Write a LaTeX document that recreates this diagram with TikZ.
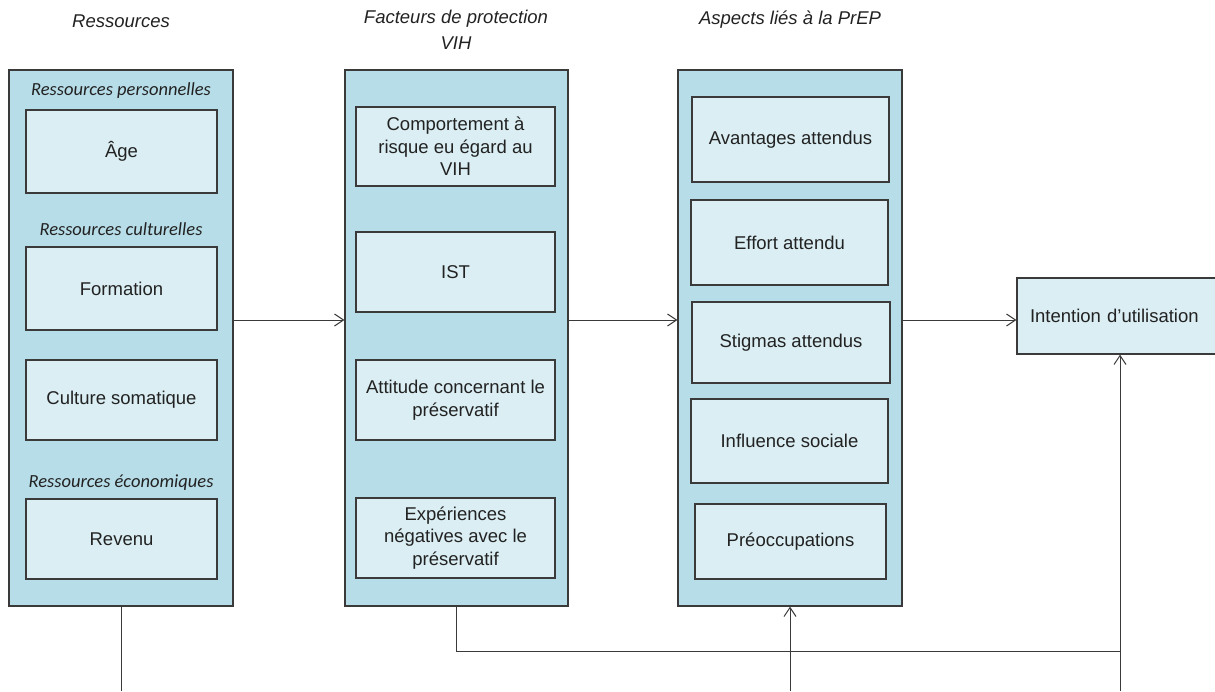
\documentclass[tikz,border=0pt]{standalone}
\usepackage{fontspec}
\setmainfont{Liberation Sans}
\newfontfamily\calfont{Carlito}
\usetikzlibrary{arrows.meta}
\definecolor{outerblue}{HTML}{B7DDE8}
\definecolor{innerblue}{HTML}{DAEEF3}
\definecolor{edge}{HTML}{3A3A3A}
\definecolor{txt}{HTML}{222222}
\tikzset{
  base/.style={font=\fontsize{18.5}{22.5}\selectfont, text=txt},
  outerbox/.style={draw=edge, line width=1.2pt, fill=outerblue, minimum width=224pt, minimum height=536pt, inner sep=0pt},
  innerbox/.style={base, draw=edge, line width=1.2pt, fill=innerblue, align=center, inner sep=0pt},
  sublabel/.style={font=\calfont\itshape\fontsize{18.5}{22}\selectfont, text=txt},
  coltitle/.style={font=\itshape\fontsize{18.5}{26}\selectfont, text=txt, align=center},
  conn/.style={draw=edge, line width=1pt},
  arr/.style={conn, -{Straight Barb[length=9pt,width=12pt,line width=1pt]}}
}
\begin{document}
\begin{tikzpicture}[x=1pt,y=-1pt]
\useasboundingbox (0,0) rectangle (1215,691);
% titles
\node[coltitle] (t1) at (121,21) {Ressources};
\node[coltitle] (t2) at (456,30) {Facteurs de protection\\VIH};
\node[coltitle] (t3) at (790,20) {Aspects liés à la PrEP};
% column 1
\node[outerbox] (c1) at (121,338) {};
\node[sublabel] (l1) at (121,91) {Ressources personnelles};
\node[sublabel] (l2) at (121,229) {Ressources culturelles};
\node[sublabel] (l3) at (121,483) {Ressources économiques};
\node[innerbox, minimum width=191pt, minimum height=83pt] (age) at (121.5,151.5) {Âge};
\node[innerbox, minimum width=191pt, minimum height=83pt] (form) at (121.5,288.5) {Formation};
\node[innerbox, minimum width=191pt, minimum height=80pt] (cult) at (121.5,400) {Culture somatique};
\node[innerbox, minimum width=191pt, minimum height=80pt] (rev) at (121.5,539) {Revenu};
% column 2
\node[outerbox, minimum width=223pt] (c2) at (456.5,338) {};
\node[innerbox, minimum width=199pt, minimum height=79pt] (comp) at (455.5,146.5) {Comportement à\\risque eu égard au\\VIH};
\node[innerbox, minimum width=199pt, minimum height=80pt] (ist) at (455.5,272) {IST};
\node[innerbox, minimum width=199pt, minimum height=80pt] (att) at (455.5,400) {Attitude concernant le\\préservatif};
\node[innerbox, minimum width=199pt, minimum height=80pt] (exp) at (455.5,538) {Expériences\\négatives avec le\\préservatif};
% column 3
\node[outerbox] (c3) at (790,338) {};
\node[innerbox, minimum width=197pt, minimum height=85pt] (avan) at (790.5,139.5) {Avantages attendus};
\node[innerbox, minimum width=197pt, minimum height=85pt] (eff) at (789.5,242.5) {Effort attendu};
\node[innerbox, minimum width=198pt, minimum height=81pt] (stig) at (791,342.5) {Stigmas attendus};
\node[innerbox, minimum width=197pt, minimum height=84pt] (infl) at (789.5,441) {Influence sociale};
\node[innerbox, minimum width=191pt, minimum height=75pt] (preo) at (790.5,541.5) {Préoccupations};
% intention
\node[innerbox, minimum width=206pt, minimum height=76pt, text width=200pt, align=left] (int) at (1120,316) {\hspace*{10pt}Intention d’utilisation};
% helper coordinates
\coordinate (mid) at (0,320);
\coordinate (b1) at (121,691);
\coordinate (b3) at (790,691);
\coordinate (b4) at (1120,691);
\coordinate (j) at (1120,651);
% connectors
\draw[arr] (c1.east |- mid) -- (c2.west |- mid);
\draw[arr] (c2.east |- mid) -- (c3.west |- mid);
\draw[arr] (c3.east |- mid) -- (int.west |- mid);
\draw[conn] (c1.south) -- (b1);
\draw[conn] (c2.south) |- (j);
\draw[arr] (b3) -- (c3.south);
\draw[arr] (b4) -- (int.south -| b4);
\end{tikzpicture}
\end{document}
